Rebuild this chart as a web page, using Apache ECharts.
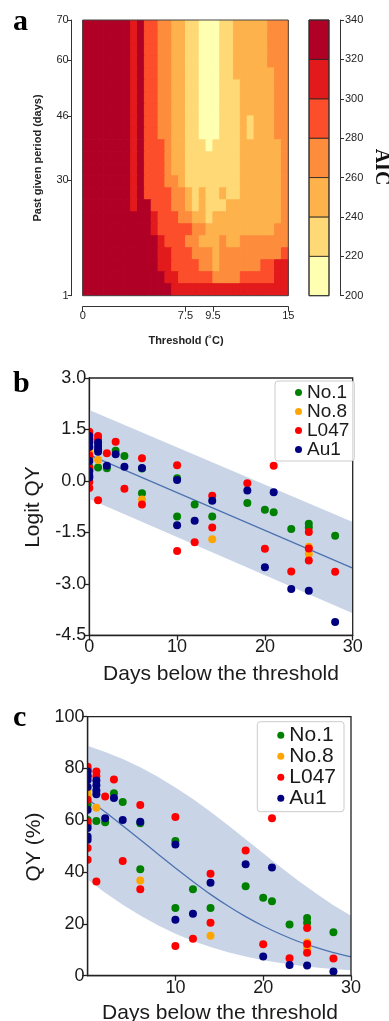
<!DOCTYPE html>
<html><head><meta charset="utf-8">
<script src="https://cdn.jsdelivr.net/npm/echarts@6/dist/echarts.min.js"></script>
<style>html,body{margin:0;padding:0;background:#fff}#c{width:389px;height:1021px}</style>
</head><body><div id="c"></div>
<script>
// ================= DATA =================
// Panel a: AIC contour (threshold x past period), read as AIC classes
const aicBreaks = [200, 220, 240, 260, 280, 300, 320, 340];
const aicColors = ['#FFFFB2', '#FED976', '#FEB24C', '#FD8D3C', '#FC4E2A', '#E31A1C', '#B10026'];
const aicClassValues = [210, 230, 250, 270, 290, 310, 330];   // representative AIC of each class
const thresholdEdges = [0,0.5,1,1.5,2,2.5,3,3.5,4,4.5,5,5.5,6,6.5,7,7.5,8,8.5,9,9.5,10,10.5,11,11.5,12,12.5,13,13.5,14,14.5,15];
const periodRowEdges = [70,67,64,61,58,55,52,49,46,43,40,37,34,31,28,25,22,19,16,13,10,7,4,1];
// one string per period row (top = 70..67 days), one digit per threshold column = AIC class index
const aicClassRows = [
  "666666656443322110001122222333",
  "666666656443322110001122222333",
  "666666656443322110001122222333",
  "666666656443322110001122222333",
  "666666656443322110001122222233",
  "666666656443322110001112222233",
  "666666656443322110001112222233",
  "666666656443322110001112222233",
  "666666656443322110001112122233",
  "666666656443322110001112122233",
  "666666656444322111011112222223",
  "666666656444322111111112222223",
  "666666656444322111111112222223",
  "666666656444332111111112222223",
  "666666656444433212112112222223",
  "666666656644433212111222222223",
  "666666666654443322122222222223",
  "666666666654444433222222222233",
  "666666666665444332223223333333",
  "666666666665544433323333333334",
  "666666666665544443323333334455",
  "666666666666554444433334444455",
  "666666666666655555555555555555"
];
const thresholdTicks = [0, 7.5, 9.5, 15];
const periodTicks = [1, 30, 46, 60, 70];

// Panels b and c: cultivars
const cultivars = ['No.1', 'No.8', 'L047', 'Au1'];
const cultivarColors = ['#008000', '#FFA500', '#FF0000', '#000080'];

const daysNo1  = [0,0,0,0,1,2,3,4,6,6,10,10,12,14,18,20,21,23,25,25,28];
const logitNo1 = [1.35,0.66,0.41,0.33,0.39,0.37,0.88,0.73,0.36,-0.36,0.08,-1.04,-0.69,-1.04,-0.64,-0.84,-0.91,-1.40,-1.25,-1.36,-1.60];
const qyNo1    = [79.4,65.9,60.1,58.2,59.7,59.2,70.4,67.1,58.9,41.1,52.0,26.1,33.4,26.1,34.5,30.1,28.7,19.8,22.3,20.4,16.8];

const daysNo8  = [0,0,1,6,14,25,25];
const logitNo8 = [0.95,0.84,0.61,-0.54,-1.70,-1.92,-2.13];
const qyNo8    = [72.1,69.8,64.8,36.8,15.4,12.8,10.6];

const daysL047  = [0,0,0,0,0,0,1,1,1,2,3,4,6,6,10,10,12,14,14,18,20,21,23,25,25,25,28];
const logitL047 = [1.43,1.20,0.75,0.38,-0.03,-0.21,1.31,1.21,-0.56,0.81,1.14,-0.23,0.66,-0.69,0.46,-2.04,-1.79,-0.43,-1.36,-0.07,-1.98,0.44,-2.64,-1.49,-1.97,-2.32,-2.65];
const qyL047    = [80.7,76.9,67.9,59.4,49.3,44.8,78.8,77.0,36.4,69.2,75.8,44.3,65.9,33.4,61.3,11.5,14.3,39.4,20.4,48.3,12.1,60.8,6.7,18.4,12.2,8.9,6.6];

const daysAu1  = [0,0,0,0,0,0,0,0,1,1,1,1,2,3,4,6,10,10,12,14,18,20,21,23,25,28];
const logitAu1 = [1.31,1.22,1.13,0.99,0.58,0.28,0.15,0.10,1.12,1.02,0.92,0.85,0.44,0.78,0.41,0.38,0.03,-1.29,-1.16,-0.58,-0.28,-2.52,-0.33,-3.15,-3.20,-4.11];
const qyAu1    = [78.8,77.2,75.6,72.9,64.1,57.0,53.7,52.5,75.4,73.5,71.5,70.1,60.8,68.6,60.1,59.4,50.7,21.6,23.9,35.9,43.0,7.4,41.8,4.1,3.9,1.6];

// fitted line and band, panel b (logit scale)
const fitDaysB   = [0, 30];
const logitFit   = [0.76, -2.54];
const logitUpper = [2.07, -1.20];
const logitLower = [-0.53, -3.86];

// fitted curve and band, panel c (QY %)
const fitDaysC = [0,2,4,6,8,10,12,14,16,18,20,22,24,26,28,30];
const qyFit   = [68.1,63.2,57.9,52.5,47.0,41.6,36.4,31.4,26.9,22.8,19.2,16.0,13.2,10.9,8.9,7.3];
const qyUpper = [88.8,86.4,83.7,80.5,76.8,72.7,68.2,63.3,58.1,52.7,47.3,41.9,36.7,31.8,27.2,23.1];
const qyLower = [37.1,32.0,27.4,23.2,19.5,16.2,13.4,11.1,9.1,7.4,6.0,4.9,3.9,3.2,2.6,2.1];

const ticksC_x = [10, 20, 30];

// ================= LAYOUT / STYLE =================
const FONT = '"Liberation Sans", Arial, Helvetica, sans-serif';
const SERIF = '"Liberation Serif", "Times New Roman", serif';
const G_A  = {left: 82.7, top: 20, width: 205.6, height: 275.7};
const G_CB = {left: 309, top: 20, width: 20, height: 275.7};
const G_B  = {left: 89.3, top: 378, width: 263.4, height: 257.3};
const G_C  = {left: 87.6, top: 716.7, width: 263.4, height: 259};

const zip = (a, b) => a.map((v, i) => [v, b[i]]);

// contour cells
const contourCells = [];
aicClassRows.forEach((row, i) => {
  for (let j = 0; j < row.length; j++) {
    contourCells.push([thresholdEdges[j], thresholdEdges[j + 1], periodRowEdges[i + 1], periodRowEdges[i], aicClassValues[+row[j]]]);
  }
});
const colorbarCells = aicColors.map((c, k) => [0, 1, aicBreaks[k], aicBreaks[k + 1], k]);

function renderCell(params, api) {
  const a = api.coord([api.value(0), api.value(3)]);
  const b = api.coord([api.value(1), api.value(2)]);
  const col = api.visual('color');
  return {type: 'rect', shape: {x: a[0], y: a[1], width: b[0] - a[0], height: b[1] - a[1]},
          style: {fill: col, stroke: col, lineWidth: 1}};
}
function renderBar(params, api) {
  const a = api.coord([0, api.value(3)]);
  const b = api.coord([1, api.value(2)]);
  return {type: 'rect', shape: {x: a[0], y: a[1], width: b[0] - a[0], height: b[1] - a[1]},
          style: {fill: aicColors[api.value(4)], stroke: '#222', lineWidth: 0.8}};
}
function makeBand(xs, up, lo) {
  return function (params, api) {
    const pts = [];
    for (let i = 0; i < xs.length; i++) pts.push(api.coord([xs[i], up[i]]));
    for (let i = xs.length - 1; i >= 0; i--) pts.push(api.coord([xs[i], lo[i]]));
    return {type: 'polygon', shape: {points: pts}, style: {fill: '#c9d5e7'}};
  };
}
function renderDot(params, api) {
  const p = api.coord([api.value(0), api.value(1)]);
  return {type: 'circle', shape: {cx: p[0], cy: p[1], r: 4}, style: {fill: api.visual('color')}};
}

function plainAxis(extra) {
  return Object.assign({
    type: 'value',
    axisLine: {show: true, onZero: false, lineStyle: {color: '#222', width: 1.3}},
    axisTick: {show: true, length: 5, lineStyle: {color: '#222', width: 1.3}},
    axisLabel: {fontSize: 18, color: '#1a1a1a', fontFamily: FONT, margin: 3},
    splitLine: {show: false}
  }, extra);
}
function rAxis(extra) {
  return Object.assign({
    type: 'value',
    axisLine: {show: true, onZero: false, lineStyle: {color: '#333', width: 1}},
    axisTick: {show: true, length: 4, lineStyle: {color: '#333', width: 1}},
    axisLabel: {fontSize: 11, color: '#222', fontFamily: FONT, margin: 3},
    splitLine: {show: false}
  }, extra);
}

const dotSeries = [];
[[daysNo1, logitNo1, qyNo1], [daysNo8, logitNo8, qyNo8], [daysL047, logitL047, qyL047], [daysAu1, logitAu1, qyAu1]]
  .forEach((set, k) => {
    dotSeries.push({type: 'custom', name: cultivars[k], xAxisIndex: 2, yAxisIndex: 2, clip: true, z: 3 + k,
      renderItem: renderDot, itemStyle: {color: cultivarColors[k]}, data: zip(set[0], set[1])});
    dotSeries.push({type: 'custom', name: cultivars[k], xAxisIndex: 3, yAxisIndex: 3, clip: true, z: 3 + k,
      renderItem: renderDot, itemStyle: {color: cultivarColors[k]}, data: zip(set[0], set[2])});
  });

const legendBase = {
  orient: 'vertical', icon: 'circle', itemWidth: 7, itemHeight: 7, itemGap: 0,
  backgroundColor: 'rgba(255,255,255,0.85)', borderColor: '#cccccc', borderWidth: 1, borderRadius: 3,
  data: cultivars, selectedMode: false, z: 20
};

const chart = echarts.init(document.getElementById('c'), null, {renderer: 'canvas'});
chart.setOption({
  animation: false,
  backgroundColor: '#ffffff',
  grid: [
    Object.assign({outerBoundsMode: 'none'}, G_A),
    Object.assign({outerBoundsMode: 'none'}, G_CB),
    Object.assign({outerBoundsMode: 'none'}, G_B),
    Object.assign({outerBoundsMode: 'none'}, G_C)
  ],
  xAxis: [
    rAxis({gridIndex: 0, min: 0, max: 15, offset: 11,
      axisTick: {show: true, length: 5, customValues: thresholdTicks, lineStyle: {color: '#333'}},
      axisLabel: {customValues: thresholdTicks, fontSize: 11, color: '#222', fontFamily: FONT, margin: 4}}),
    {gridIndex: 1, type: 'value', min: 0, max: 1, show: false},
    plainAxis({gridIndex: 2, min: 0, max: 30, interval: 10}),
    plainAxis({gridIndex: 3, min: 0, max: 30,
      axisTick: {show: true, length: 5, customValues: ticksC_x, lineStyle: {color: '#222', width: 1.3}},
      axisLabel: {customValues: ticksC_x, fontSize: 18, color: '#1a1a1a', fontFamily: FONT, margin: 3}})
  ],
  yAxis: [
    rAxis({gridIndex: 0, min: 1, max: 70, offset: 11,
      axisTick: {show: true, length: 4, customValues: periodTicks, lineStyle: {color: '#333'}},
      axisLabel: {customValues: periodTicks, fontSize: 11, color: '#222', fontFamily: FONT, margin: 3}}),
    rAxis({gridIndex: 1, min: 200, max: 340, interval: 20, position: 'right', offset: 11,
      axisLabel: {fontSize: 11, color: '#222', fontFamily: FONT, margin: 5}}),
    plainAxis({gridIndex: 2, min: -4.5, max: 3, interval: 1.5,
      axisLabel: {fontSize: 18, color: '#1a1a1a', fontFamily: FONT, margin: 3, formatter: v => v.toFixed(1)}}),
    plainAxis({gridIndex: 3, min: 0, max: 100, interval: 20})
  ],
  visualMap: [{
    type: 'piecewise', show: false, seriesIndex: 0, dimension: 4,
    pieces: aicColors.map((c, k) => ({gte: aicBreaks[k], lt: aicBreaks[k + 1], color: c}))
  }],
  legend: [
    Object.assign({}, legendBase, {left: 275, top: 381, padding: [2, 5, 2, 20],
      textStyle: {fontSize: 19, lineHeight: 18.5, color: '#1a1a1a', fontFamily: FONT}}),
    Object.assign({}, legendBase, {left: 257.3, top: 721.7, padding: [3, 8, 3, 20],
      textStyle: {fontSize: 21, lineHeight: 20.5, color: '#1a1a1a', fontFamily: FONT}})
  ],
  series: [
    {type: 'custom', xAxisIndex: 0, yAxisIndex: 0, clip: true, silent: true, renderItem: renderCell,
      dimensions: ['t0', 't1', 'p0', 'p1', 'aic'], encode: {x: [0, 1], y: [2, 3]}, data: contourCells},
    {type: 'custom', xAxisIndex: 1, yAxisIndex: 1, clip: false, silent: true, renderItem: renderBar,
      encode: {x: [0, 1], y: [2, 3]}, data: colorbarCells},
    {type: 'custom', xAxisIndex: 2, yAxisIndex: 2, clip: true, silent: true, z: 1,
      renderItem: makeBand(fitDaysB, logitUpper, logitLower), data: [[0, 0]]},
    {type: 'line', xAxisIndex: 2, yAxisIndex: 2, z: 2, symbol: 'none', silent: true,
      lineStyle: {color: '#4c72b0', width: 1.3}, data: zip(fitDaysB, logitFit)},
    {type: 'custom', xAxisIndex: 3, yAxisIndex: 3, clip: true, silent: true, z: 1,
      renderItem: makeBand(fitDaysC, qyUpper, qyLower), data: [[0, 0]]},
    {type: 'line', xAxisIndex: 3, yAxisIndex: 3, z: 2, symbol: 'none', silent: true, smooth: 0.2,
      lineStyle: {color: '#4c72b0', width: 1.3}, data: zip(fitDaysC, qyFit)}
  ].concat(dotSeries),
  graphic: [
    // frames
    {type: 'rect', z: 10, silent: true, shape: {x: G_A.left, y: G_A.top, width: G_A.width, height: G_A.height},
      style: {fill: 'none', stroke: '#444', lineWidth: 1}},
    {type: 'rect', z: 10, silent: true, shape: {x: G_CB.left, y: G_CB.top, width: G_CB.width, height: G_CB.height},
      style: {fill: 'none', stroke: '#333', lineWidth: 1}},
    {type: 'rect', z: 10, silent: true, shape: {x: G_B.left, y: G_B.top, width: G_B.width, height: G_B.height},
      style: {fill: 'none', stroke: '#222', lineWidth: 1.3}},
    {type: 'rect', z: 10, silent: true, shape: {x: G_C.left, y: G_C.top, width: G_C.width, height: G_C.height},
      style: {fill: 'none', stroke: '#222', lineWidth: 1.3}},
    // panel labels
    {type: 'text', x: 13, y: 22, z: 30, style: {text: 'a', fontFamily: SERIF, fontWeight: 'bold', fontSize: 30, fill: '#000', align: 'left', verticalAlign: 'middle'}},
    {type: 'text', x: 13, y: 384, z: 30, style: {text: 'b', fontFamily: SERIF, fontWeight: 'bold', fontSize: 30, fill: '#000', align: 'left', verticalAlign: 'middle'}},
    {type: 'text', x: 13, y: 718, z: 30, style: {text: 'c', fontFamily: SERIF, fontWeight: 'bold', fontSize: 30, fill: '#000', align: 'left', verticalAlign: 'middle'}},
    // panel a titles
    {type: 'text', x: 38, y: 158, rotation: Math.PI / 2, z: 30, style: {text: 'Past given period (days)', fontFamily: FONT, fontWeight: 'bold', fontSize: 11, fill: '#222', align: 'center', verticalAlign: 'middle'}},
    {type: 'text', x: 186, y: 341, z: 30, style: {text: 'Threshold (˚C)', fontFamily: FONT, fontWeight: 'bold', fontSize: 11, fill: '#222', align: 'center', verticalAlign: 'middle'}},
    {type: 'text', x: 381, y: 167, rotation: -Math.PI / 2, z: 30, style: {text: 'AIC', fontFamily: SERIF, fontWeight: 'bold', fontSize: 20, fill: '#111', align: 'center', verticalAlign: 'middle'}},
    // panel b titles
    {type: 'text', x: 33, y: 507, rotation: Math.PI / 2, z: 30, style: {text: 'Logit QY', fontFamily: FONT, fontSize: 21, fill: '#1a1a1a', align: 'center', verticalAlign: 'middle'}},
    {type: 'text', x: 221, y: 674, z: 30, style: {text: 'Days below the threshold', fontFamily: FONT, fontSize: 21, fill: '#1a1a1a', align: 'center', verticalAlign: 'middle'}},
    // panel c titles
    {type: 'text', x: 34, y: 847, rotation: Math.PI / 2, z: 30, style: {text: 'QY (%)', fontFamily: FONT, fontSize: 21, fill: '#1a1a1a', align: 'center', verticalAlign: 'middle'}},
    {type: 'text', x: 220, y: 1013, z: 30, style: {text: 'Days below the threshold', fontFamily: FONT, fontSize: 21, fill: '#1a1a1a', align: 'center', verticalAlign: 'middle'}}
  ]
});
</script>
</body></html>
